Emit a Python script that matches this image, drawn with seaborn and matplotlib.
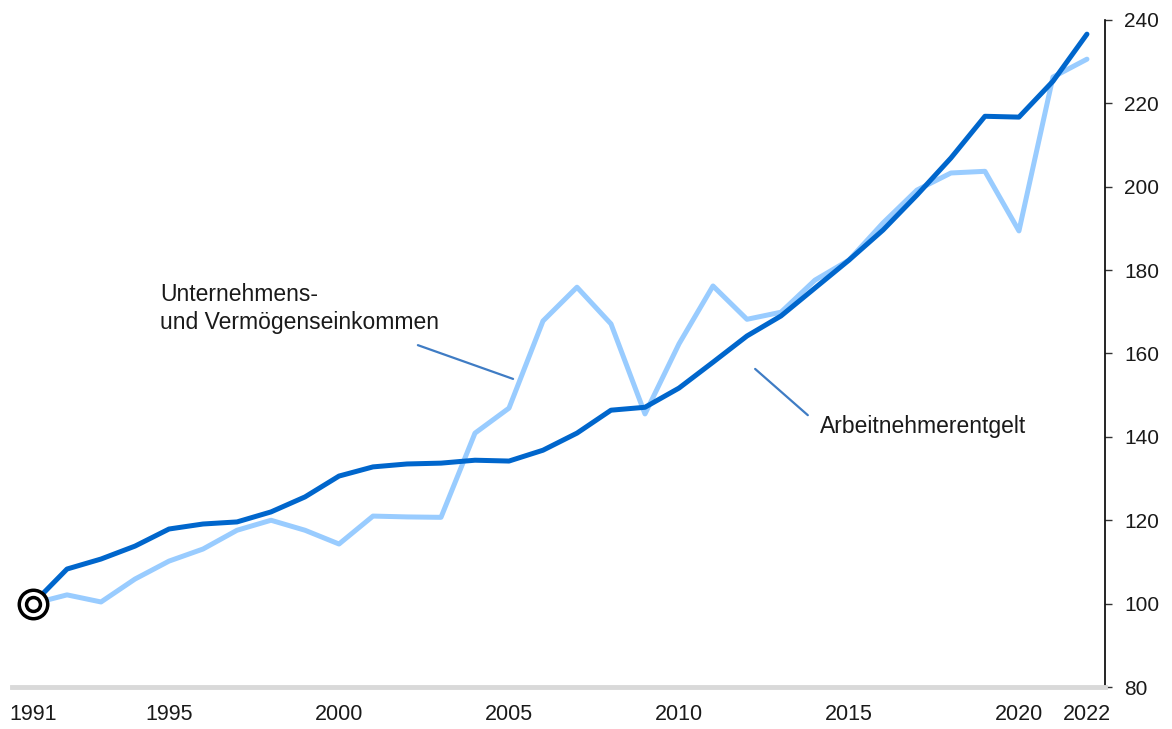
import numpy as np
import pandas as pd
import seaborn as sns
import matplotlib.pyplot as plt

sns.set_style('white')
plt.rcParams['font.family'] = ['Liberation Sans', 'DejaVu Sans']

years = list(range(1991, 2023))
arbeitnehmer = [100.0, 108.3, 110.7, 113.8, 117.9, 119.1, 119.6, 122.0, 125.6, 130.6,
                132.8, 133.5, 133.7, 134.4, 134.2, 136.8, 140.9, 146.4, 147.1, 151.7,
                157.9, 164.2, 169.0, 175.7, 182.4, 189.6, 198.0, 206.9, 216.9, 216.7,
                225.3, 236.6]
unternehmen = [100.0, 102.1, 100.4, 105.9, 110.2, 113.1, 117.6, 120.0, 117.6, 114.3,
               121.0, 120.8, 120.7, 140.9, 146.9, 167.8, 175.9, 167.1, 145.5, 162.3,
               176.2, 168.2, 169.9, 177.6, 182.4, 191.3, 199.2, 203.3, 203.7, 189.4,
               226.3, 230.6]
xticks = [1991, 1995, 2000, 2005, 2010, 2015, 2020, 2022]
yticks = [80, 100, 120, 140, 160, 180, 200, 220, 240]

df = pd.DataFrame({
    'Jahr': years * 2,
    'Index': unternehmen + arbeitnehmer,
    'Reihe': ['Unternehmens- und Vermögenseinkommen'] * len(years) + ['Arbeitnehmerentgelt'] * len(years),
})

fig = plt.figure(figsize=(11.72, 7.29), dpi=100)
ax = fig.add_axes([0.0102, 0.0576, 0.9326, 0.915])

sns.lineplot(data=df, x='Jahr', y='Index', hue='Reihe',
             palette={'Unternehmens- und Vermögenseinkommen': '#99CCFF',
                      'Arbeitnehmerentgelt': '#0066CC'},
             linewidth=3.6, legend=False, ax=ax)

# start marker (double ring)
ax.scatter([years[0]], [arbeitnehmer[0]], s=420, facecolor='white', edgecolor='black', linewidth=2.5, zorder=5)
ax.scatter([years[0]], [arbeitnehmer[0]], s=100, facecolor='white', edgecolor='black', linewidth=2.5, zorder=6)

ax.set_xlim(1990.38, 2022.53)
ax.set_ylim(80, 240)
ax.set_xticks(xticks)
ax.set_yticks(yticks)
ax.yaxis.tick_right()
ax.tick_params(axis='y', direction='out', length=5, width=1, color='#333333', labelsize=15, pad=9,
               labelcolor='#1a1a1a', right=True, left=False)
ax.tick_params(axis='x', length=0, labelsize=15.5, pad=12, labelcolor='#1a1a1a')
ax.set_xlabel('')
ax.set_ylabel('')

for s in ['top', 'left']:
    ax.spines[s].set_visible(False)
ax.spines['right'].set_color('black')
ax.spines['right'].set_linewidth(1.2)
ax.spines['bottom'].set_color('#D9D9D9')
ax.spines['bottom'].set_linewidth(3.5)

# annotations
ax.text(1994.74, 172.6, 'Unternehmens-', fontsize=16.5, va='baseline', ha='left', color='#1a1a1a')
ax.text(1994.74, 165.9, 'und Vermögenseinkommen', fontsize=16.5, va='baseline', ha='left', color='#1a1a1a')
ax.plot([2002.32, 2005.12], [162.0, 153.9], color='#3F7CC4', linewidth=1.6)
ax.text(2014.15, 140.9, 'Arbeitnehmerentgelt', fontsize=16.5, va='baseline', ha='left', color='#1a1a1a')
ax.plot([2012.24, 2013.79], [156.3, 145.2], color='#3F7CC4', linewidth=1.6)

fig.savefig('out.png', dpi=100)
